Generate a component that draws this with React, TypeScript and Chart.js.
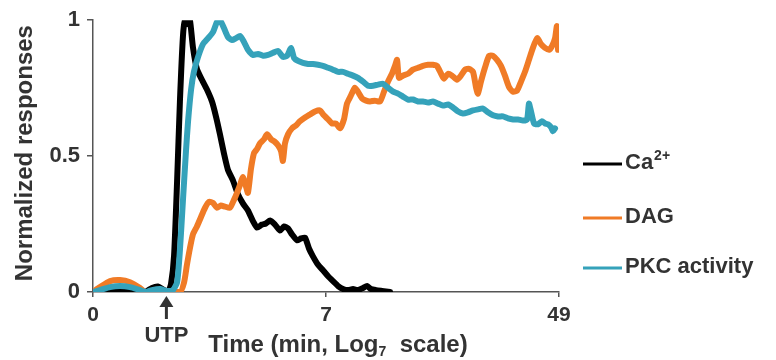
import React, { useEffect, useRef } from 'react';
import { Chart, registerables } from 'chart.js';

Chart.register(...registerables);

// x values are positions on the Log7 time axis (0 -> 0 min, 1 -> 7 min, 2 -> 49 min)
const xTickLabels = ['0', '7', '49'];
const yTickLabels: Record<string, string> = { '0': '0', '0.5': '0.5', '1': '1' };
const utpX = 0.315;

const seriesNames = ['Ca', 'DAG', 'PKC activity'];

const caX = [0, 0.052, 0.107, 0.167, 0.223, 0.253, 0.279, 0.3, 0.322, 0.335, 0.348, 0.361, 0.373, 0.386, 0.395, 0.408, 0.416, 0.429, 0.446, 0.468, 0.489, 0.511, 0.528, 0.545, 0.562, 0.579, 0.601, 0.622, 0.644, 0.665, 0.687, 0.704, 0.725, 0.742, 0.76, 0.781, 0.803, 0.82, 0.837, 0.854, 0.876, 0.893, 0.91, 0.927, 0.944, 0.966, 0.987, 1.009, 1.03, 1.052, 1.073, 1.094, 1.116, 1.137, 1.159, 1.176, 1.193, 1.215, 1.24, 1.275];
const caY = [0, 0, 0.01, 0.007, 0, 0.015, 0.02, 0.01, 0, 0.03, 0.135, 0.41, 0.7, 0.94, 1.0, 0.985, 1.0, 0.9, 0.82, 0.78, 0.745, 0.7, 0.645, 0.58, 0.51, 0.45, 0.41, 0.36, 0.325, 0.3, 0.26, 0.237, 0.248, 0.252, 0.263, 0.248, 0.226, 0.241, 0.234, 0.212, 0.19, 0.197, 0.2, 0.16, 0.131, 0.1, 0.08, 0.058, 0.04, 0.022, 0.011, 0.007, 0.011, 0.007, 0.015, 0.022, 0.011, 0.007, 0.004, 0];

const dagX = [0, 0.03, 0.073, 0.116, 0.159, 0.202, 0.223, 0.373, 0.391, 0.403, 0.416, 0.429, 0.446, 0.464, 0.481, 0.498, 0.515, 0.532, 0.549, 0.567, 0.588, 0.605, 0.618, 0.631, 0.644, 0.657, 0.665, 0.678, 0.691, 0.704, 0.717, 0.734, 0.747, 0.764, 0.777, 0.794, 0.807, 0.815, 0.824, 0.837, 0.854, 0.871, 0.888, 0.91, 0.931, 0.953, 0.974, 0.991, 1.009, 1.026, 1.043, 1.06, 1.077, 1.09, 1.107, 1.124, 1.137, 1.155, 1.172, 1.189, 1.21, 1.232, 1.249, 1.266, 1.283, 1.296, 1.305, 1.313, 1.33, 1.352, 1.373, 1.395, 1.416, 1.438, 1.459, 1.476, 1.494, 1.506, 1.524, 1.541, 1.562, 1.579, 1.597, 1.614, 1.631, 1.644, 1.652, 1.665, 1.682, 1.7, 1.717, 1.734, 1.751, 1.768, 1.785, 1.803, 1.82, 1.837, 1.854, 1.871, 1.888, 1.906, 1.923, 1.94, 1.957, 1.97, 1.983, 1.991, 1.996];
const dagY = [0, 0.018, 0.04, 0.044, 0.036, 0.015, 0, 0, 0.036, 0.099, 0.161, 0.212, 0.241, 0.277, 0.31, 0.332, 0.328, 0.31, 0.318, 0.314, 0.31, 0.339, 0.365, 0.394, 0.423, 0.387, 0.365, 0.453, 0.511, 0.526, 0.547, 0.562, 0.58, 0.562, 0.555, 0.54, 0.518, 0.482, 0.547, 0.58, 0.602, 0.613, 0.628, 0.642, 0.653, 0.664, 0.668, 0.65, 0.635, 0.62, 0.62, 0.602, 0.635, 0.693, 0.723, 0.752, 0.737, 0.712, 0.704, 0.701, 0.704, 0.701, 0.737, 0.774, 0.803, 0.832, 0.854, 0.788, 0.796, 0.803, 0.818, 0.825, 0.832, 0.836, 0.836, 0.832, 0.803, 0.785, 0.803, 0.796, 0.781, 0.796, 0.818, 0.821, 0.81, 0.752, 0.73, 0.774, 0.825, 0.869, 0.869, 0.854, 0.832, 0.796, 0.755, 0.737, 0.741, 0.774, 0.81, 0.854, 0.898, 0.934, 0.912, 0.898, 0.891, 0.905, 0.934, 0.978, 0.891];

const pkcX = [0, 0.03, 0.073, 0.116, 0.159, 0.202, 0.227, 0.253, 0.288, 0.318, 0.343, 0.361, 0.373, 0.386, 0.399, 0.408, 0.421, 0.433, 0.451, 0.472, 0.494, 0.515, 0.532, 0.545, 0.562, 0.579, 0.597, 0.614, 0.631, 0.648, 0.665, 0.687, 0.708, 0.73, 0.751, 0.773, 0.794, 0.815, 0.833, 0.85, 0.863, 0.88, 0.901, 0.923, 0.944, 0.966, 0.987, 1.009, 1.03, 1.052, 1.073, 1.094, 1.116, 1.137, 1.159, 1.18, 1.202, 1.223, 1.245, 1.266, 1.288, 1.309, 1.33, 1.352, 1.373, 1.395, 1.416, 1.438, 1.459, 1.481, 1.502, 1.524, 1.545, 1.567, 1.588, 1.609, 1.631, 1.652, 1.674, 1.695, 1.717, 1.738, 1.76, 1.781, 1.803, 1.824, 1.845, 1.863, 1.871, 1.88, 1.893, 1.91, 1.927, 1.94, 1.953, 1.966, 1.974, 1.983];
const pkcY = [0, 0.007, 0.018, 0.022, 0.018, 0.007, 0, 0.007, 0.011, 0.004, 0.007, 0.036, 0.153, 0.336, 0.518, 0.628, 0.745, 0.81, 0.865, 0.912, 0.934, 0.956, 0.993, 1.0, 0.971, 0.938, 0.927, 0.934, 0.942, 0.92, 0.891, 0.872, 0.876, 0.869, 0.872, 0.88, 0.887, 0.865, 0.869, 0.898, 0.861, 0.85, 0.843, 0.839, 0.839, 0.836, 0.832, 0.825, 0.818, 0.81, 0.81, 0.803, 0.796, 0.788, 0.774, 0.759, 0.759, 0.763, 0.766, 0.752, 0.737, 0.73, 0.719, 0.708, 0.708, 0.701, 0.701, 0.697, 0.701, 0.693, 0.686, 0.69, 0.679, 0.664, 0.657, 0.661, 0.668, 0.672, 0.675, 0.661, 0.65, 0.646, 0.646, 0.639, 0.635, 0.635, 0.631, 0.635, 0.693, 0.664, 0.62, 0.617, 0.628, 0.62, 0.617, 0.606, 0.591, 0.602];

const FONT = '"Liberation Sans", Arial, Helvetica, sans-serif';
const TEXT = '#333333';
const AXIS = '#555555';
const BLACK = '#000000';
const ORANGE = '#F07B26';
const BLUE = '#35A2BA';

const toPoints = (xs: number[], ys: number[]) => xs.map((x, i) => ({ x, y: ys[i] }));

const overlayPlugin = {
  id: 'overlay',
  afterDraw(chart: any) {
    const ctx = chart.ctx as CanvasRenderingContext2D;
    const xs = chart.scales.x;
    const ys = chart.scales.y;
    ctx.save();
    ctx.fillStyle = TEXT;

    // Y title
    ctx.save();
    ctx.font = `bold 24px ${FONT}`;
    ctx.textAlign = 'center';
    ctx.textBaseline = 'middle';
    ctx.translate(25, (ys.top + ys.bottom) / 2 - 3);
    ctx.rotate(-Math.PI / 2);
    ctx.fillText('Normalized responses', 0, 0);
    ctx.restore();

    // X title with subscript
    const p1 = 'Time (min, Log';
    const sub = '7';
    const p2 = '  scale)';
    ctx.font = `bold 24px ${FONT}`;
    const w1 = ctx.measureText(p1).width;
    const w3 = ctx.measureText(p2).width;
    ctx.font = `bold 14px ${FONT}`;
    const w2 = ctx.measureText(sub).width;
    const total = w1 + w2 + w3;
    let tx = 338 - total / 2;
    const baseY = 352;
    ctx.textAlign = 'left';
    ctx.textBaseline = 'alphabetic';
    ctx.font = `bold 24px ${FONT}`;
    ctx.fillText(p1, tx, baseY);
    tx += w1;
    ctx.font = `bold 14px ${FONT}`;
    ctx.fillText(sub, tx, baseY + 4);
    tx += w2;
    ctx.font = `bold 24px ${FONT}`;
    ctx.fillText(p2, tx, baseY);

    // UTP arrow
    const ax = xs.getPixelForValue(utpX);
    const tipY = ys.bottom + 4;
    ctx.fillStyle = TEXT;
    ctx.strokeStyle = TEXT;
    ctx.lineWidth = 3;
    ctx.beginPath();
    ctx.moveTo(ax, tipY + 9);
    ctx.lineTo(ax, tipY + 23);
    ctx.stroke();
    ctx.beginPath();
    ctx.moveTo(ax, tipY);
    ctx.lineTo(ax - 7, tipY + 11);
    ctx.lineTo(ax + 7, tipY + 11);
    ctx.closePath();
    ctx.fill();
    ctx.font = `bold 22px ${FONT}`;
    ctx.textAlign = 'center';
    ctx.textBaseline = 'middle';
    ctx.fillText('UTP', ax, 336);

    // Legend
    const items = [
      { color: BLACK, y: 163 },
      { color: ORANGE, y: 217 },
      { color: BLUE, y: 267 },
    ];
    items.forEach((it, i) => {
      ctx.strokeStyle = it.color;
      ctx.lineWidth = 3;
      ctx.beginPath();
      ctx.moveTo(583, it.y + 1);
      ctx.lineTo(622, it.y + 1);
      ctx.stroke();
      ctx.fillStyle = TEXT;
      ctx.textAlign = 'left';
      ctx.textBaseline = 'middle';
      ctx.font = `bold 22px ${FONT}`;
      ctx.fillText(seriesNames[i], 625, it.y);
      if (i === 0) {
        const w = ctx.measureText(seriesNames[i]).width;
        ctx.font = `bold 14px ${FONT}`;
        ctx.fillText('2+', 625 + w + 1, it.y - 7);
      }
    });

    ctx.restore();
  },
};

export default function App() {
  const canvasRef = useRef<HTMLCanvasElement | null>(null);

  useEffect(() => {
    if (!canvasRef.current) return;
    const lineCommon = {
      borderWidth: 6,
      pointRadius: 0,
      tension: 0.2,
      borderJoinStyle: 'round' as const,
      borderCapStyle: 'round' as const,
      fill: false,
    };
    const chart = new Chart(canvasRef.current, {
      type: 'line',
      data: {
        datasets: [
          { label: 'PKC activity', data: toPoints(pkcX, pkcY), borderColor: BLUE, order: 1, ...lineCommon },
          { label: 'DAG', data: toPoints(dagX, dagY), borderColor: ORANGE, order: 2, ...lineCommon },
          { label: 'Ca2+', data: toPoints(caX, caY), borderColor: BLACK, order: 3, ...lineCommon },
        ],
      },
      options: {
        animation: false,
        responsive: false,
        maintainAspectRatio: false,
        layout: { padding: { left: 0, top: 18, right: 217, bottom: 0 } },
        plugins: { legend: { display: false }, tooltip: { enabled: false } },
        scales: {
          x: {
            type: 'linear',
            min: 0,
            max: 2,
            afterFit: (s: any) => { s.height = 68; },
            ticks: {
              stepSize: 1,
              autoSkip: false,
              maxRotation: 0,
              padding: 6,
              color: TEXT,
              font: { family: FONT, size: 21, weight: 'bold' },
              callback: (v: any) => xTickLabels[Math.round(Number(v))] ?? '',
            },
            grid: { display: true, drawOnChartArea: false, drawTicks: true, tickLength: 5, color: AXIS, lineWidth: 1.5 },
            border: { display: true, color: AXIS, width: 1.5 },
          },
          y: {
            type: 'linear',
            min: 0,
            max: 1,
            afterFit: (s: any) => { s.width = 93; },
            ticks: {
              stepSize: 0.5,
              padding: 7,
              color: TEXT,
              font: { family: FONT, size: 22, weight: 'bold' },
              callback: (v: any) => yTickLabels[String(v)] ?? '',
            },
            grid: { display: true, drawOnChartArea: false, drawTicks: true, tickLength: 6, color: AXIS, lineWidth: 1.5 },
            border: { display: true, color: AXIS, width: 1.5 },
          },
        },
      },
      plugins: [overlayPlugin],
    });
    return () => chart.destroy();
  }, []);

  return (
    <div style={{ position: 'absolute', left: 0, top: 0, width: 776, height: 360, background: '#fff' }}>
      <canvas ref={canvasRef} width={776} height={360} style={{ display: 'block', width: 776, height: 360 }} />
    </div>
  );
}
